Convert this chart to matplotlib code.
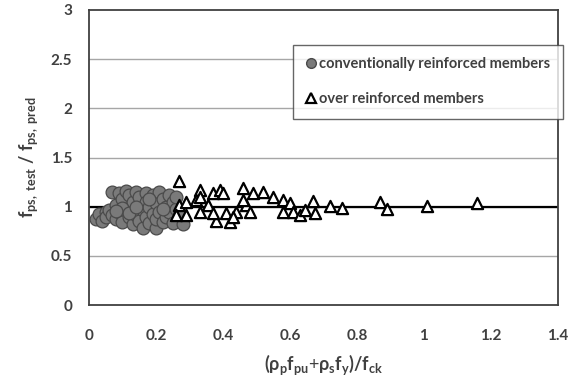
import matplotlib
matplotlib.use("Agg")
import matplotlib.pyplot as plt
from matplotlib.lines import Line2D

plt.rcParams['font.family'] = ['Lato', 'DejaVu Sans']
plt.rcParams['mathtext.fontset'] = 'custom'
plt.rcParams['mathtext.rm'] = 'Lato:bold'
plt.rcParams['mathtext.bf'] = 'Lato:bold'
plt.rcParams['mathtext.it'] = 'Lato:bold'

# conventionally reinforced members
conv_x = [0.02, 0.03, 0.04, 0.05, 0.05, 0.06, 0.07, 0.07, 0.08, 0.08,
          0.09, 0.09, 0.10, 0.10, 0.11, 0.11, 0.12, 0.12, 0.13, 0.13,
          0.13, 0.14, 0.14, 0.15, 0.15, 0.15, 0.16, 0.16, 0.17, 0.17,
          0.17, 0.18, 0.18, 0.19, 0.19, 0.20, 0.20, 0.20, 0.21, 0.21,
          0.22, 0.22, 0.23, 0.23, 0.24, 0.24, 0.25, 0.25, 0.26, 0.27,
          0.10, 0.12, 0.14, 0.18, 0.22, 0.08, 0.28, 0.26]
conv_y = [0.88, 0.93, 0.86, 0.95, 0.90, 0.97, 0.92, 1.15, 0.88, 1.02,
          1.14, 0.95, 1.08, 0.85, 1.16, 0.98, 0.90, 1.12, 1.05, 0.82,
          0.95, 1.15, 0.92, 1.02, 0.86, 1.10, 0.78, 0.97, 1.14, 0.90,
          1.05, 0.83, 1.00, 1.12, 0.93, 0.78, 1.04, 0.88, 1.15, 0.95,
          0.85, 1.08, 1.00, 0.90, 1.12, 0.95, 0.83, 1.05, 0.98, 0.92,
          0.99, 0.94, 1.00, 1.08, 0.98, 0.96, 0.82, 1.10]

# over reinforced members
over_x = [0.27, 0.27, 0.26, 0.29, 0.33, 0.33, 0.355, 0.37, 0.39, 0.38,
          0.41, 0.42, 0.44, 0.46, 0.47, 0.48, 0.49, 0.52, 0.55, 0.58,
          0.58, 0.60, 0.32, 0.33, 0.40, 0.43, 0.37, 0.29, 0.61, 0.63,
          0.645, 0.67, 0.675, 0.72, 0.755, 0.87, 0.89, 1.01, 1.16, 0.46]
over_y = [1.26, 1.02, 0.92, 0.92, 1.17, 0.95, 1.02, 1.14, 1.17, 0.86,
          0.94, 0.85, 0.95, 1.19, 1.02, 0.95, 1.14, 1.15, 1.10, 1.07,
          0.95, 1.04, 1.07, 1.10, 1.14, 0.90, 0.94, 1.05, 0.95, 0.92,
          0.97, 1.06, 0.94, 1.01, 0.99, 1.05, 0.98, 1.01, 1.04, 1.07]

xticks = [0, 0.2, 0.4, 0.6, 0.8, 1.0, 1.2, 1.4]
xticklabels = ['0', '0.2', '0.4', '0.6', '0.8', '1', '1.2', '1.4']
yticks = [0, 0.5, 1.0, 1.5, 2.0, 2.5, 3.0]
yticklabels = ['0', '0.5', '1', '1.5', '2', '2.5', '3']

txt = '#404040'
fig = plt.figure(figsize=(5.78, 3.81), dpi=100)
ax = fig.add_axes([0.154, 0.199, 0.811, 0.775])
ax.set_xlim(0, 1.4)
ax.set_ylim(0, 3)
for yv in yticks[1:-1]:
    ax.axhline(yv, color='#a6a6a6', lw=1.0, zorder=0)
ax.axhline(1.0, color='black', lw=1.6, zorder=1)

ax.scatter(conv_x, conv_y, s=85, marker='o', facecolor='#7a7a7a',
           edgecolor='#4a4a4a', linewidth=0.9, zorder=2)
ax.scatter(over_x, over_y, s=65, marker='^', facecolor='white',
           edgecolor='black', linewidth=1.6, zorder=3)

ax.set_xticks(xticks)
ax.set_xticklabels(xticklabels)
ax.set_yticks(yticks)
ax.set_yticklabels(yticklabels)
ax.tick_params(axis='y', length=0, pad=12, labelsize=11, labelcolor=txt)
ax.tick_params(axis='x', length=0, pad=17, labelsize=11, labelcolor=txt)
for lab in ax.get_xticklabels() + ax.get_yticklabels():
    lab.set_fontweight('bold')
for s in ax.spines.values():
    s.set_color('#404040')
    s.set_linewidth(1.3)

ax.set_xlabel(r'$(\rho_p f_{pu}$+$\rho_s f_y)/f_{ck}$', fontsize=13,
              color=txt, labelpad=7)
ax.set_ylabel(r'$f_{ps,\ test}$ / $f_{ps,\ pred}$', fontsize=13,
              color=txt, labelpad=8, fontweight='bold')

handles = [
    Line2D([], [], ls='none', marker='o', ms=7, markerfacecolor='#7a7a7a',
           markeredgecolor='#4a4a4a', label='conventionally reinforced members'),
    Line2D([], [], ls='none', marker='^', ms=7, markerfacecolor='white',
           markeredgecolor='black', markeredgewidth=1.6,
           label='over reinforced members'),
]
leg = ax.legend(handles=handles, loc='upper left',
                bbox_to_anchor=(0.435, 0.882), borderaxespad=0,
                frameon=True, fancybox=False,
                edgecolor='#404040', handletextpad=0.15, handlelength=0.8,
                labelspacing=1.45, borderpad=0.85,
                prop={'weight': 'bold', 'size': 10.5})
leg.get_frame().set_linewidth(1.0)
for t in leg.get_texts():
    t.set_color(txt)

fig.savefig('out.png', dpi=100)
